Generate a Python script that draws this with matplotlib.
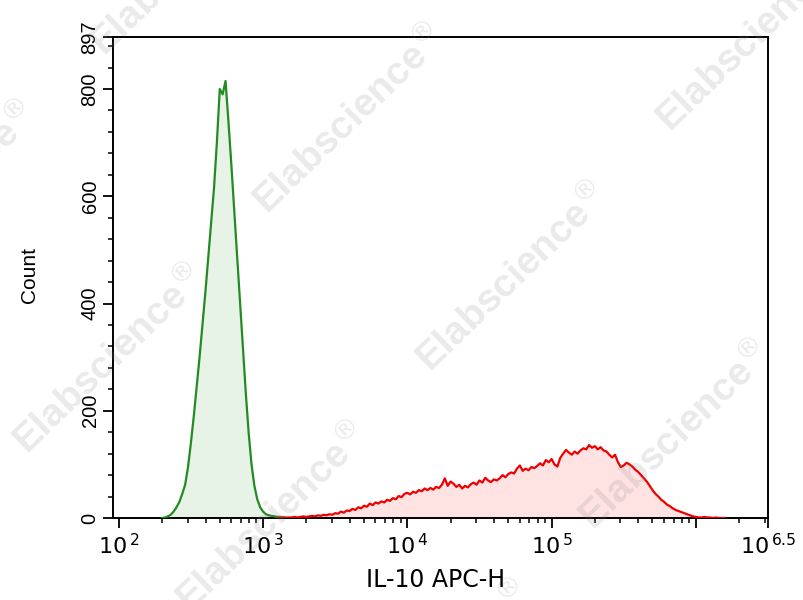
import numpy as np
import matplotlib
matplotlib.use("Agg")
import matplotlib.pyplot as plt
from matplotlib.ticker import FixedLocator, FixedFormatter, NullFormatter

# ---------------- data ----------------
# green (control) histogram: counts at log10 channels starting at 2.30, step 0.02
green_start, green_step = 2.30, 0.02
green_counts = [0, 1, 3, 6, 12, 20, 30, 45, 62, 95,
                140, 190, 245, 300, 360, 420, 485, 550, 615, 700,
                800, 790, 815, 740, 660, 575, 490, 405, 320, 235,
                160, 100, 60, 35, 20, 12, 7, 5, 4, 3,
                2, 2, 1, 1, 0, 0]

# red (IL-10 stained) histogram: counts at log10 channels starting at 3.10, step 0.02
red_start, red_step = 3.10, 0.02
red_counts = [0, 0, 1, 0, 1, 1, 2, 1, 2, 3,
              2, 3, 4, 3, 5, 4, 6, 5, 7, 6,
              9, 8, 12, 10, 14, 13, 17, 15, 20, 18,
              23, 21, 27, 24, 29, 27, 31, 29, 34, 32,
              37, 35, 41, 39, 45, 47, 44, 49, 47, 52,
              50, 55, 52, 56, 53, 58, 56, 62, 74, 60,
              68, 64, 58, 62, 55, 60, 57, 63, 66, 62,
              70, 66, 75, 70, 67, 72, 70, 74, 80, 76,
              82, 85, 83, 92, 98, 88, 92, 89, 95, 93,
              97, 102, 98, 108, 104, 110, 100, 96, 112, 120,
              127, 122, 118, 124, 120, 126, 130, 128, 136, 131,
              134, 128, 132, 126, 124, 118, 113, 118, 104, 95,
              98, 103, 100, 96, 90, 86, 80, 74, 68, 60,
              52, 45, 40, 34, 30, 25, 22, 18, 15, 13,
              11, 9, 7, 5, 3, 2, 1, 1, 2, 1,
              1, 0, 1, 0, 0, 0]

x_major_exp = [2, 3, 4, 5, 6, 6.5]
x_major_labels = [r"$10^{\,2}$", r"$10^{\,3}$", r"$10^{\,4}$", r"$10^{\,5}$", "", r"$10^{\,6.5}$"]
y_major = [0, 200, 400, 600, 800, 897]
y_major_labels = ["0", "200", "400", "600", "800", "897"]
x_label = "IL-10 APC-H"
y_label = "Count"
watermark = r"Elabscience$^{\circledR}$"

# ---------------- figure ----------------
W, H = 804, 600
fig = plt.figure(figsize=(W / 100, H / 100), dpi=100)
ax = fig.add_axes([113 / W, 1 - 518 / H, (768 - 113) / W, (518 - 37) / H])

gx = 10 ** (green_start + green_step * np.arange(len(green_counts)))
rx = 10 ** (red_start + red_step * np.arange(len(red_counts)))

ax.fill_between(gx, green_counts, 0, color="#e6f3e6", zorder=1, linewidth=0)
ax.fill_between(rx, red_counts, 0, color="#ffe3e3", zorder=1, linewidth=0)
ax.plot(gx, green_counts, color="#228b22", lw=1.6, zorder=3)
ax.plot(rx, red_counts, color="#ee0000", lw=1.6, zorder=3)

ax.set_xscale("log")
ax.set_xlim(10 ** 1.96, 10 ** 6.5)
ax.set_ylim(0, 897)

# x ticks
ax.xaxis.set_major_locator(FixedLocator([10 ** e for e in x_major_exp]))
ax.xaxis.set_major_formatter(FixedFormatter(x_major_labels))
minors = [m * 10 ** k for k in range(2, 6) for m in range(2, 10)] + [2e6, 3e6]
ax.xaxis.set_minor_locator(FixedLocator(minors))
ax.xaxis.set_minor_formatter(NullFormatter())

# y ticks
ax.yaxis.set_major_locator(FixedLocator(y_major))
ax.yaxis.set_major_formatter(FixedFormatter(y_major_labels))
ax.yaxis.set_minor_locator(FixedLocator([v for v in range(40, 897, 40) if v % 200 != 0]))

ax.tick_params(axis="both", which="major", direction="out", length=7.5, width=1.3, color="black")
ax.tick_params(axis="both", which="minor", direction="out", length=3.5, width=1.1, color="black")
ax.tick_params(axis="x", which="major", pad=3)
ax.tick_params(axis="y", which="major", pad=9)

for lbl in ax.get_xticklabels():
    lbl.set_fontfamily("DejaVu Sans")
    lbl.set_fontsize(16)
for lbl in ax.get_yticklabels():
    lbl.set_fontfamily("Liberation Sans")
    lbl.set_fontsize(14.5)
    lbl.set_rotation(90)
    lbl.set_va("center")
    lbl.set_ha("center")

for s in ax.spines.values():
    s.set_linewidth(1.4)
    s.set_color("black")

fig.text(436 / W, 1 - 580 / H, x_label, family="DejaVu Sans", fontsize=17,
         ha="center", va="center")
fig.text(30 / W, 1 - 275 / H, y_label, family="Liberation Sans", fontsize=15,
         rotation=90, ha="center", va="center")

# watermarks
centers = [(187, -38), (350, 120), (513, 278), (676, 436), (-58, 197),
           (110, 360), (273, 518), (436, 676), (753, 38)]
for cx, cy in centers:
    fig.text(cx / W, 1 - cy / H, watermark, family="Liberation Sans", fontweight="bold",
             fontsize=28, color="#808080", alpha=0.17, rotation=44,
             rotation_mode="anchor", ha="center", va="center", zorder=10)

fig.savefig("out.png", dpi=100)
